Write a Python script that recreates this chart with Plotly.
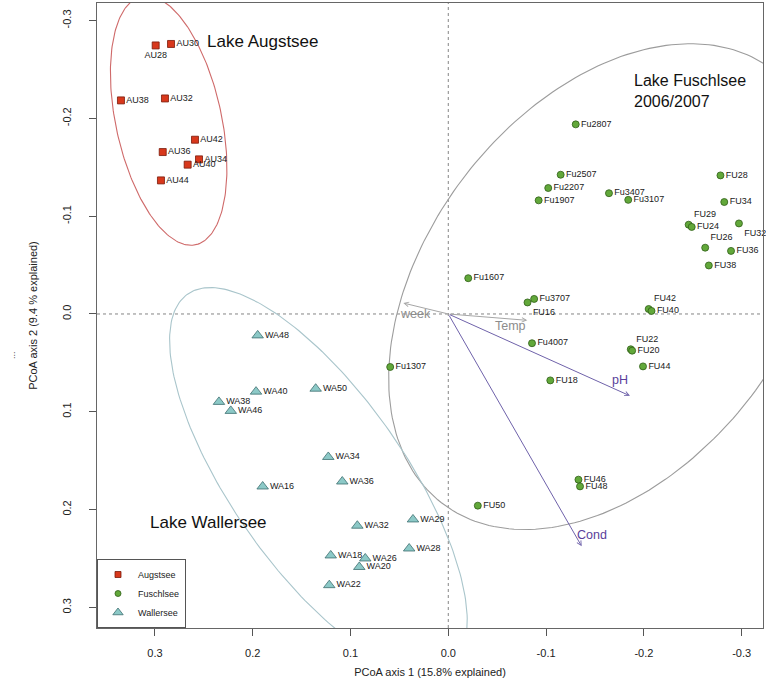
import numpy as np
import plotly.graph_objects as go

# ---------------- data ----------------
au_names = ["AU28", "AU30", "AU38", "AU32", "AU42", "AU36", "AU34", "AU40", "AU44"]
au_x = [0.2992, 0.2835, 0.3347, 0.2897, 0.2590, 0.2920, 0.2549, 0.2665, 0.2938]
au_y = [-0.2746, -0.2761, -0.2184, -0.2204, -0.1782, -0.1656, -0.1581, -0.1527, -0.1366]

fu_names = ["Fu2807", "Fu2507", "Fu2207", "Fu1907", "Fu3407", "Fu3107", "FU28", "FU34",
            "FU29", "FU24", "FU32", "FU26", "FU36", "FU38", "Fu1607", "Fu3707", "FU16",
            "FU42", "FU40", "Fu4007", "FU22", "FU20", "FU44", "Fu1307", "FU18", "FU46",
            "FU48", "FU50"]
fu_x = [-0.1303, -0.1149, -0.1022, -0.0924, -0.1643, -0.1840, -0.2783, -0.2822,
        -0.2458, -0.2489, -0.2972, -0.2627, -0.2891, -0.2664, -0.0204, -0.0878, -0.0810,
        -0.2049, -0.2078, -0.0856, -0.1866, -0.1880, -0.1991, 0.0594, -0.1043, -0.1331,
        -0.1347, -0.0302]
fu_y = [-0.1939, -0.1424, -0.1288, -0.1162, -0.1235, -0.1167, -0.1417, -0.1145,
        -0.0913, -0.0890, -0.0926, -0.0678, -0.0645, -0.0496, -0.0366, -0.0154, -0.0118,
        -0.0051, -0.0031, 0.0299, 0.0361, 0.0375, 0.0536, 0.0542, 0.0679, 0.1694,
        0.1763, 0.1960]

wa_names = ["WA48", "WA40", "WA50", "WA38", "WA46", "WA34", "WA16", "WA36", "WA32",
            "WA29", "WA28", "WA18", "WA26", "WA20", "WA22"]
wa_x = [0.1949, 0.1966, 0.1356, 0.2345, 0.2224, 0.1227, 0.1898, 0.1084, 0.0930,
        0.0361, 0.0400, 0.1202, 0.0849, 0.0910, 0.1217]
wa_y = [0.0219, 0.0794, 0.0764, 0.0899, 0.0991, 0.1462, 0.1764, 0.1713, 0.2165,
        0.2101, 0.2398, 0.2469, 0.2500, 0.2587, 0.2773]

env_names = ["week", "Temp", "pH", "Cond"]
env_x = [0.0460, -0.0808, -0.1858, -0.1364]
env_y = [-0.0112, 0.0065, 0.0837, 0.2376]

tick_vals = [0.3, 0.2, 0.1, 0.0, -0.1, -0.2, -0.3]
tick_text = ["0.3", "0.2", "0.1", "0.0", "-0.1", "-0.2", "-0.3"]

# ---------------- style ----------------
FONT = "Liberation Sans, Arial, Helvetica, sans-serif"
AU_FILL, AU_LINE, AU_ELL = "#d8381c", "#7a1a0a", "#cf6a6a"
FU_FILL, FU_LINE, FU_ELL = "#62a83a", "#2f5e16", "#9c9c9c"
WA_FILL, WA_LINE, WA_ELL = "#8cc9c7", "#3e6e70", "#a9c5cb"
ENV_COL = {"week": "#a6a6a6", "Temp": "#a6a6a6", "pH": "#6f62aa", "Cond": "#6f62aa"}
ENV_TXT = {"week": "#8c8c8c", "Temp": "#8c8c8c", "pH": "#5a3e9b", "Cond": "#5a3e9b"}
ENV_SHIFT = {"week": (12, -11), "Temp": (-17, -6), "pH": (-10, 16), "Cond": (10, 11)}

LABEL_POS = {"AU28": "bottom center", "FU29": "top right", "FU32": "bottom right",
             "FU26": "top right", "FU16": "bottom right", "FU42": "top right",
             "FU22": "top right"}

CHI2_95_2DF = 5.991464547  # chi-square quantile used for 95% sd ellipses


def sd_ellipse(xs, ys, n=240):
    pts = np.column_stack([xs, ys])
    mu = pts.mean(axis=0)
    cov = np.cov(pts.T)
    vals, vecs = np.linalg.eigh(cov)
    t = np.linspace(0, 2 * np.pi, n)
    circ = np.vstack([np.cos(t), np.sin(t)])
    e = mu[:, None] + np.sqrt(CHI2_95_2DF) * vecs @ (np.sqrt(vals)[:, None] * circ)
    return e[0], e[1]


fig = go.Figure()

# ellipses
for xs, ys, col in [(au_x, au_y, AU_ELL), (fu_x, fu_y, FU_ELL), (wa_x, wa_y, WA_ELL)]:
    ex, ey = sd_ellipse(xs, ys)
    fig.add_trace(go.Scatter(x=ex, y=ey, mode="lines", line=dict(color=col, width=1.1),
                             hoverinfo="skip", showlegend=False))

# points with labels
groups = [
    ("Augstsee", au_names, au_x, au_y, "square", 7, AU_FILL, AU_LINE),
    ("Fuschlsee", fu_names, fu_x, fu_y, "circle", 7, FU_FILL, FU_LINE),
    ("Wallersee", wa_names, wa_x, wa_y, "triangle-up", 10, WA_FILL, WA_LINE),
]
for name, names, xs, ys, sym, size, fill, line in groups:
    fig.add_trace(go.Scatter(
        x=xs, y=ys, mode="markers+text", text=names,
        textposition=[LABEL_POS.get(n, "middle right") for n in names],
        textfont=dict(family=FONT, size=9, color="#1a1a1a"),
        marker=dict(symbol=sym, size=size, color=fill, line=dict(color=line, width=0.8)),
        showlegend=False, hoverinfo="text", cliponaxis=False))
for name, names, xs, ys, sym, size, fill, line in groups:
    fig.add_trace(go.Scatter(
        x=[None], y=[None], mode="markers", name=name,
        marker=dict(symbol=sym, size=size - 1, color=fill, line=dict(color=line, width=0.8))))

annotations = []
# environmental arrows
for nm, ex, ey in zip(env_names, env_x, env_y):
    annotations.append(dict(x=ex, y=ey, ax=0, ay=0, xref="x", yref="y", axref="x", ayref="y",
                            text="", showarrow=True, arrowhead=5, arrowsize=0.9,
                            arrowwidth=1, arrowcolor=ENV_COL[nm], standoff=0, startstandoff=0))
    dx, dy = ENV_SHIFT[nm]
    annotations.append(dict(x=ex, y=ey, xref="x", yref="y", text=nm, showarrow=False,
                            xshift=dx, yshift=dy,
                            font=dict(family=FONT, size=12.5, color=ENV_TXT[nm])))

# lake titles
annotations += [
    dict(x=0.2488, y=-0.2784, xref="x", yref="y", text="Lake Augstsee", showarrow=False,
         xanchor="left", yanchor="middle", font=dict(family=FONT, size=17, color="#111")),
    dict(x=-0.1881, y=-0.2280, xref="x", yref="y", text="Lake Fuschlsee<br>2006/2007",
         showarrow=False, xanchor="left", yanchor="middle", align="left",
         font=dict(family=FONT, size=16, color="#111")),
    dict(x=0.3067, y=0.2137, xref="x", yref="y", text="Lake Wallersee", showarrow=False,
         xanchor="left", yanchor="middle", font=dict(family=FONT, size=17, color="#111")),
    dict(x=-0.1380, y=0.437, xref="paper", yref="paper", text="...", showarrow=False,
         textangle=-90, font=dict(family=FONT, size=9, color="#333")),
]

shapes = [
    dict(type="line", xref="x", yref="paper", x0=0, x1=0, y0=0, y1=1,
         line=dict(color="#777", width=0.9, dash="dot"), layer="below"),
    dict(type="line", xref="paper", yref="y", x0=0, x1=1, y0=0, y1=0,
         line=dict(color="#777", width=0.9, dash="dot"), layer="below"),
]

axis_common = dict(showgrid=False, zeroline=False, showline=True, mirror=True,
                   linecolor="#666", linewidth=1, ticks="outside", ticklen=7,
                   tickcolor="#555", tickvals=tick_vals, ticktext=tick_text,
                   tickfont=dict(family=FONT, size=11, color="#222"),
                   automargin=False)

fig.update_layout(
    width=766, height=687,
    margin=dict(l=97, r=3, t=3, b=59),
    paper_bgcolor="white", plot_bgcolor="white",
    xaxis=dict(range=[0.3592, -0.3218], ticklabelstandoff=8,
               title=dict(text="PCoA axis 1 (15.8% explained)", standoff=10,
                          font=dict(family=FONT, size=11, color="#222")),
               **axis_common),
    yaxis=dict(range=[0.3211, -0.3180], tickangle=-90, ticklabelstandoff=14,
               title=dict(text="PCoA axis 2 (9.4 % explained)", standoff=20,
                          font=dict(family=FONT, size=11, color="#222")),
               **axis_common),
    legend=dict(x=0, y=0, xanchor="left", yanchor="bottom", bgcolor="white",
                bordercolor="#555", borderwidth=1, font=dict(family=FONT, size=9, color="#222"),
                itemwidth=30, tracegroupgap=0),
    annotations=annotations, shapes=shapes,
    font=dict(family=FONT),
)

fig.write_html("out.html", config={"displayModeBar": False},
               post_script="document.body.style.margin='0';document.body.style.overflow='hidden';")
